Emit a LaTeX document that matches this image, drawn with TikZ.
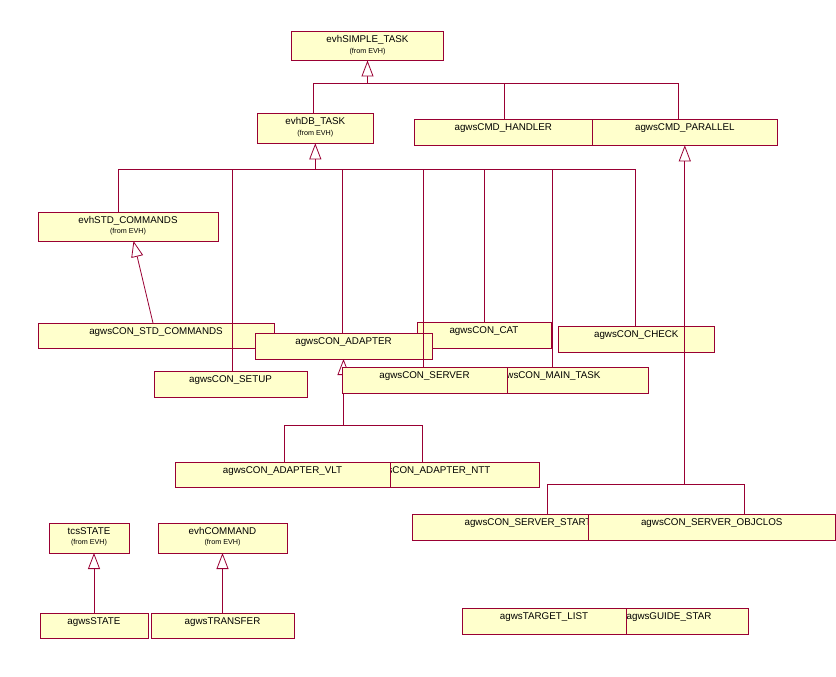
\documentclass[tikz,border=0pt]{standalone}
\usepackage{fontspec}
\setmainfont{Liberation Sans}
\usetikzlibrary{arrows.meta}
\definecolor{rosered}{RGB}{153,0,51}
\definecolor{roseyel}{RGB}{255,255,204}
\tikzset{
  box/.style={draw=rosered, fill=roseyel, line width=0.8pt, inner sep=0pt, outer sep=0pt, anchor=north west},
  lbl/.style={font=\fontsize{9.8}{10}\selectfont, inner sep=0pt, anchor=base},
  sublbl/.style={font=\fontsize{7.2}{8}\selectfont, inner sep=0pt, anchor=base},
  rel/.style={draw=rosered, line width=0.8pt},
  gen/.style={rel, -{Triangle[length=16pt, width=12pt, fill=white]}},
}
\newcommand{\cls}[6]{%
  \node[box, minimum width={(#4)-(#2)}, minimum height={(#5)-(#3)}] (#1) at (#2,#3) {};
  \node[lbl] (#1-t) at ([yshift=-11pt]#1.north) {#6};}
\newcommand{\clsf}[6]{\cls{#1}{#2}{#3}{#4}{#5}{#6}%
  \node[sublbl] (#1-f) at ([yshift=-21.8pt]#1.north) {(from EVH)};}
\begin{document}
\begin{tikzpicture}[x=1pt, y=-1pt]
\useasboundingbox (0,0) rectangle (836,677);
% classes
\clsf{simple}{291.5}{31.7}{443.5}{60.5}{evhSIMPLE\_TASK}
\clsf{db}{257.3}{113.7}{373.3}{143.3}{evhDB\_TASK}
\cls{handler}{414.3}{119.3}{592.3}{145.3}{agwsCMD\_HANDLER}
\cls{parallel}{592.3}{119.3}{777.3}{145.3}{agwsCMD\_PARALLEL}
\clsf{stdcmd}{38}{212}{218}{241}{evhSTD\_COMMANDS}
\cls{constd}{38}{323}{274}{348}{agwsCON\_STD\_COMMANDS}
\cls{cat}{417}{322}{551}{348}{agwsCON\_CAT}
\cls{adapter}{255}{333}{432}{359}{agwsCON\_ADAPTER}
\cls{check}{558.3}{326}{714.3}{352.3}{agwsCON\_CHECK}
\cls{setup}{154}{371}{307}{397}{agwsCON\_SETUP}
% adapter generalization (under the server box)
\path (adapter.south) ++(0,66) coordinate (b3);
\draw[gen] (b3) -- (adapter.south);
\cls{maintask}{448}{367}{648}{393}{agwsCON\_MAIN\_TASK}
\cls{server}{342}{367}{507}{393}{agwsCON\_SERVER}
\cls{ntt}{321}{462}{539}{487}{agwsCON\_ADAPTER\_NTT}
\cls{vlt}{175}{462}{390}{487}{agwsCON\_ADAPTER\_VLT}
\cls{start}{412}{514}{644}{540}{agwsCON\_SERVER\_START}
\cls{objclos}{588}{514}{835.5}{540}{agwsCON\_SERVER\_OBJCLOS}
\clsf{tcs}{49}{523}{129}{553}{tcsSTATE}
\clsf{evhcmd}{158}{523}{287}{553}{evhCOMMAND}
\cls{agwsstate}{40}{613}{148}{638}{agwsSTATE}
\cls{transfer}{151}{613}{294}{638}{agwsTRANSFER}
\cls{guide}{590}{608}{748}{634}{agwsGUIDE\_STAR}
\cls{target}{462}{608}{626}{634}{agwsTARGET\_LIST}
% tree 1
\coordinate (b1) at (367.5,83.3);
\draw[rel] ([xshift=-2pt]db.north) |- (b1);
\draw[rel] ([xshift=1pt]handler.north) |- (b1);
\draw[rel] ([xshift=-6.5pt]parallel.north) |- (b1);
\draw[gen] (b1) -- (simple.south);
% tree 2
\path (db.south) ++(0,26.2) coordinate (b2);
\draw[rel] ([xshift=-10pt]stdcmd.north) |- (b2);
\draw[rel] ([xshift=1.5pt]setup.north) |- (b2);
\draw[rel] ([xshift=-1pt]adapter.north) |- (b2);
\draw[rel] ([xshift=-1pt]server.north) |- (b2);
\draw[rel] (cat.north) |- (b2);
\draw[rel] ([xshift=4.3pt]maintask.north) |- (b2);
\draw[rel] ([xshift=-0.8pt]check.north) |- (b2);
\draw[gen] (b2) -- (db.south);
% std commands
\draw[gen] ([xshift=-3pt]constd.north) -- ([xshift=5.5pt]stdcmd.south);
% tree 3 children
\draw[rel] ([xshift=1.5pt]vlt.north) |- (b3);
\draw[rel] ([xshift=-8pt]ntt.north) |- (b3);
% tree 4
\path (parallel.south) ++(0,339) coordinate (b4);
\draw[rel] ([xshift=19pt]start.north) |- (b4);
\draw[rel] ([xshift=32.2pt]objclos.north) |- (b4);
\draw[gen] (b4) -- (parallel.south);
% bottom left
\draw[gen] (agwsstate.north) -- (agwsstate.north |- tcs.south);
\draw[gen] (transfer.north) -- (transfer.north |- evhcmd.south);
\end{tikzpicture}
\end{document}
